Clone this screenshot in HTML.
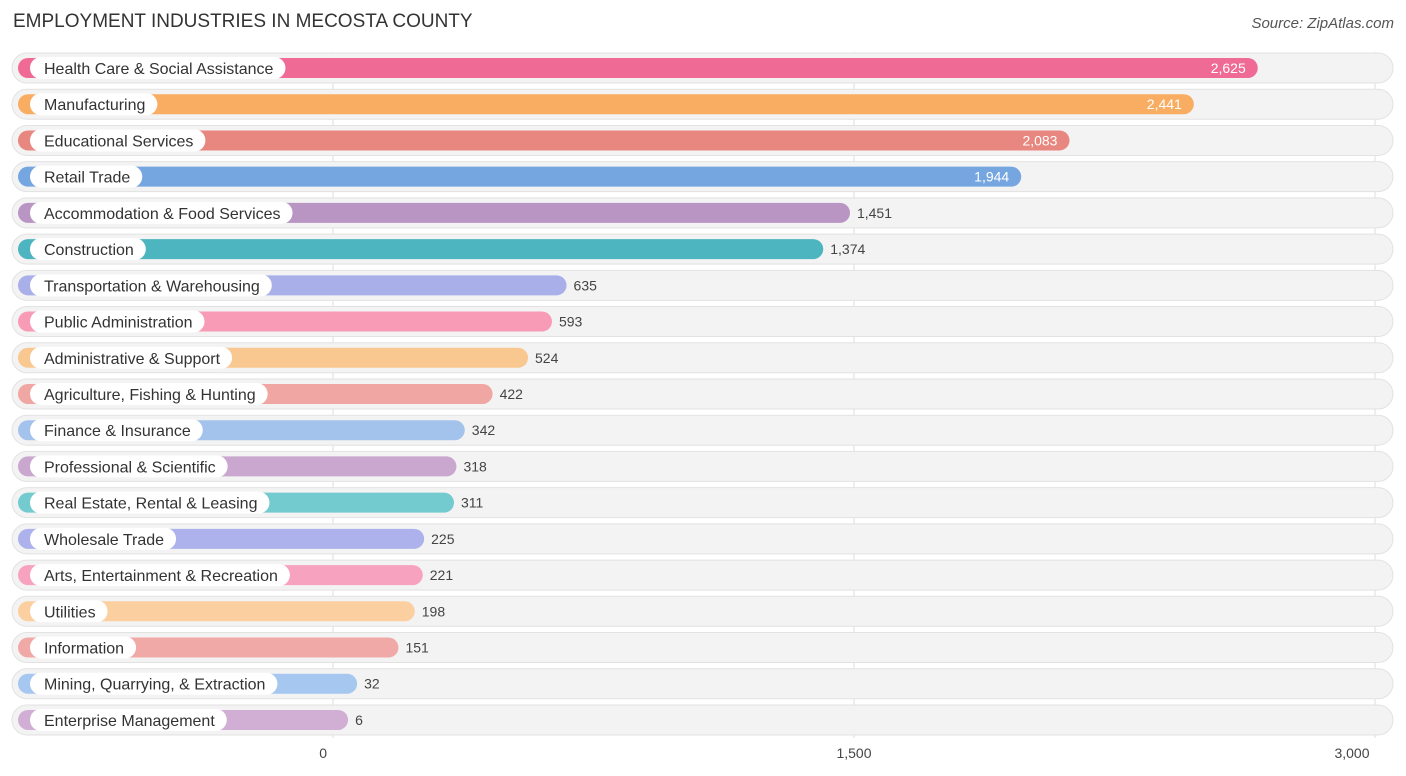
<!DOCTYPE html>
<html><head><meta charset="utf-8"><style>
body{margin:0;background:#fff;font-family:"Liberation Sans",sans-serif;}
#c{position:relative;width:1406px;height:776px;overflow:hidden;}
.t{position:absolute;left:13px;top:11px;font-size:19px;color:#333;}
.s{position:absolute;right:12px;top:15px;font-size:15px;color:#555;font-style:italic;}
</style></head><body>
<div id="c">
<div class="t">EMPLOYMENT INDUSTRIES IN MECOSTA COUNTY</div>
<div class="s">Source: ZipAtlas.com</div>
<svg id="svg" width="1406" height="776" style="position:absolute;left:0;top:0"></svg>
</div>
<script>
const categories=["Health Care & Social Assistance","Manufacturing","Educational Services","Retail Trade","Accommodation & Food Services","Construction","Transportation & Warehousing","Public Administration","Administrative & Support","Agriculture, Fishing & Hunting","Finance & Insurance","Professional & Scientific","Real Estate, Rental & Leasing","Wholesale Trade","Arts, Entertainment & Recreation","Utilities","Information","Mining, Quarrying, & Extraction","Enterprise Management"];
const values=[2625,2441,2083,1944,1451,1374,635,593,524,422,342,318,311,225,221,198,151,32,6];
const tickValues=[0,1500,3000];
const tickLabels=["0","1,500","3,000"];
const colors=["#f06a96","#f9ad62","#e8877f","#76a6e0","#b995c4","#4db5bf","#a9afe9","#f79bb7","#f9c790","#f0a6a2","#a3c3ec","#c9a7cf","#74cbcf","#adb2ec","#f7a2bf","#fbcf9f","#f0a9a6","#a6c7ef","#d1afd4"];
const NS="http://www.w3.org/2000/svg",svg=document.getElementById('svg');
const x0=333,k=521/1500;
const xs=v=>x0+v*k;
const yc=i=>68+i*36.22;
function mk(t,a,p){const e=document.createElementNS(NS,t);for(const q in a)e.setAttribute(q,a[q]);(p||svg).appendChild(e);return e;}
tickValues.forEach((v,i)=>{
 const l=mk('line',{x1:xs(v),x2:xs(v),y1:52,y2:738,stroke:'#ddd','stroke-width':1});
 
 
 const t=mk('text',{x:xs(v)-(i==0?6:i==1?-0:23),y:758,'font-size':14,fill:'#444','text-anchor':i==0?'end':'middle'});
 t.textContent=tickLabels[i];
 
 
});
categories.forEach((c,i)=>{
 const y=yc(i),g=mk('g',{});
 
 
 mk('rect',{x:12,y:y-15,width:1381,height:30,rx:15,fill:'#f3f3f3',stroke:'#e2e2e2'},g);
 const end=xs(values[i])+13;
 const b=mk('rect',{x:18,y:y-10,width:end-18,height:20,rx:10,fill:colors[i]},g);
 
 
 const pill=mk('rect',{x:30,y:y-11,width:100,height:22,rx:11,fill:'#fff'},g);
 const lt=mk('text',{x:44,y:y+6,'font-size':16,fill:'#333'},g);
 lt.textContent=c;
 
 
 pill.setAttribute('width',lt.getComputedTextLength()+26);
 const inside=values[i]>1600;
 const vt=mk('text',{x:inside?end-12:end+7,y:y+5,'font-size':14,fill:inside?'#fff':'#444','text-anchor':inside?'end':'start'},g);
 vt.textContent=values[i].toLocaleString('en-US');
 
 
});
</script>
</body></html>
